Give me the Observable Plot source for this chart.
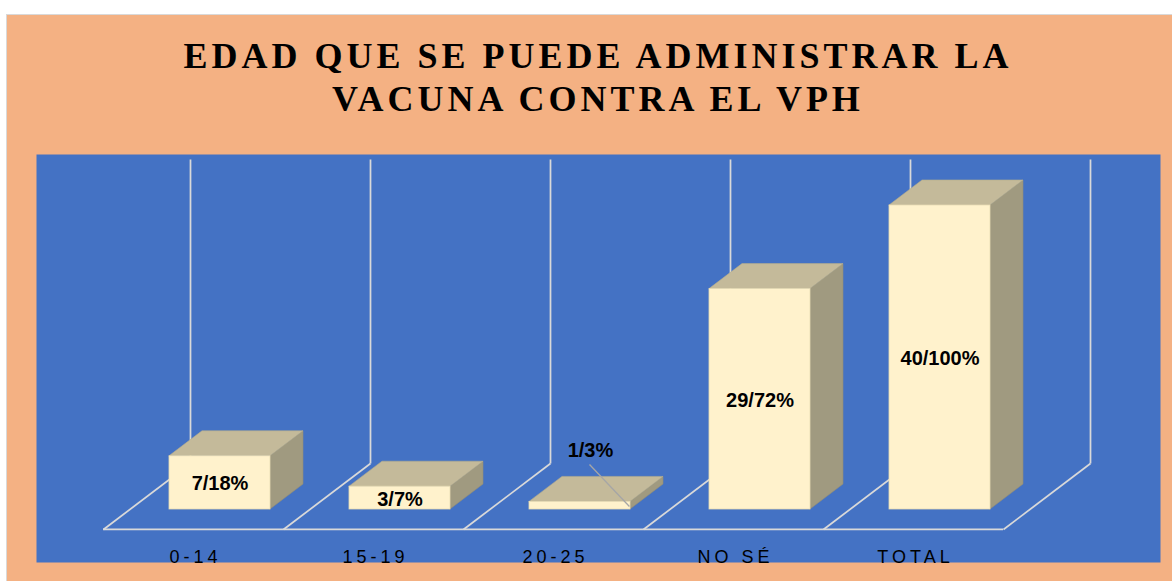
<!DOCTYPE html>
<html>
<head>
<meta charset="utf-8">
<script src="https://cdn.jsdelivr.net/npm/d3@7"></script>
<script src="https://cdn.jsdelivr.net/npm/@observablehq/plot@0.6"></script>
<style>
  html, body { margin: 0; padding: 0; background: #ffffff; }
  #page { position: relative; width: 1172px; height: 581px; overflow: hidden; }
  #panel { position: absolute; left: 6px; top: 14px; width: 1166px; height: 567px;
           background: #F4B183; border-left: 1.5px solid #D9D9D9; border-top: 1.5px solid #D9D9D9; box-sizing: border-box; }
  #title { position: absolute; left: 24px; width: 1148px; top: 35px; text-align: center;
           font-family: "Liberation Serif", "Times New Roman", serif; font-weight: bold;
           font-size: 36px; line-height: 43px; letter-spacing: 4px; color: #000; }
  #chart { position: absolute; left: 0; top: 154px; }
</style>
</head>
<body>
<div id="page">
  <div id="panel"></div>
  <div id="title">EDAD QUE SE PUEDE ADMINISTRAR LA<br>VACUNA CONTRA EL VPH</div>
  <div id="chart"></div>
</div>
<script>
// ---- data ----
const categories = ["0-14", "15-19", "20-25", "NO SÉ", "TOTAL"];
const counts = [7, 3, 1, 29, 40];
const percents = [18, 7, 3, 72, 100];

// ---- geometry (3D look) ----
const BAR_L = 0.3667, BAR_R = 0.9278;   // front face within slot
const DX = 0.1833, DY = 3.29;           // bar depth offset
const FLOOR_DX = 0.4833, FLOOR_FRONT = -2.63, FLOOR_BACK = 6.05, WALL_TOP = 46.05;

const rows = categories.map((c, i) => ({ cat: c, i, v: counts[i], label: `${counts[i]}/${percents[i]}%` }));

const topPts = rows.flatMap(d => [
  { i: d.i, y: d.v, x1: d.i + BAR_L, x2: d.i + BAR_R },
  { i: d.i, y: d.v + DY, x1: d.i + BAR_L + DX, x2: d.i + BAR_R + DX }
]);
const sidePts = rows.flatMap(d => [
  { i: d.i, x: d.i + BAR_R, y1: 0, y2: d.v },
  { i: d.i, x: d.i + BAR_R + DX, y1: DY, y2: d.v + DY }
]);
const dividers = d3.range(categories.length + 1);
const inside = rows.filter(d => d.v >= 2);
const outside = rows.filter(d => d.v < 2);

const GRID = "#D9D9D9";
const FRONT = "#FFF2CC", TOP = "#C4BA9A", SIDE = "#A09A80";

const chart = Plot.plot({
  width: 1172,
  height: 427,
  marginLeft: 36, marginRight: 12, marginTop: 0, marginBottom: 19,
  style: { background: "transparent", overflow: "visible" },
  x: { type: "linear", domain: [0, categories.length], range: [103, 1003], axis: null },
  y: { type: "linear", domain: [0, 40], range: [355, 51], axis: null },
  marks: [
    Plot.frame({ fill: "#4472C4", stroke: null }),
    // floor and back walls
    Plot.link(dividers, { x1: d => d, y1: FLOOR_FRONT, x2: d => d + FLOOR_DX, y2: FLOOR_BACK, stroke: GRID, strokeWidth: 1.75 }),
    Plot.link(dividers, { x1: d => d + FLOOR_DX, y1: FLOOR_BACK, x2: d => d + FLOOR_DX, y2: WALL_TOP, stroke: GRID, strokeWidth: 1.75 }),
    Plot.ruleY([FLOOR_FRONT], { x1: 0, x2: categories.length, stroke: GRID, strokeWidth: 1.75 }),
    // bars
    Plot.areaY(sidePts, { x: "x", y1: "y1", y2: "y2", z: "i", fill: SIDE, stroke: "#958F76", strokeWidth: 0.6 }),
    Plot.areaX(topPts, { y: "y", x1: "x1", x2: "x2", z: "i", fill: TOP, stroke: "#B5AC8C", strokeWidth: 0.6 }),
    Plot.rect(rows, { x1: d => d.i + BAR_L, x2: d => d.i + BAR_R, y1: 0, y2: "v", fill: FRONT, stroke: "#E9DDB4", strokeWidth: 0.8 }),
    // data labels
    Plot.text(inside, { x: d => d.i + (BAR_L + BAR_R) / 2, y: d => d.v / 2, text: "label",
      fontFamily: "Liberation Sans, Arial, sans-serif", fontWeight: "bold", fontSize: 20, fill: "#000", dy: 1 }),
    Plot.link(outside, { x1: d => d.i + 0.70, y1: d => d.v + 4.92, x2: d => d.i + BAR_R - 0.006, y2: d => d.v * 0.4,
      stroke: "#A6A6A6", strokeWidth: 1.3 }),
    Plot.text(outside, { x: d => d.i + (BAR_L + BAR_R) / 2 + 0.058, y: d => d.v + 6.76, text: "label",
      fontFamily: "Liberation Sans, Arial, sans-serif", fontWeight: "bold", fontSize: 20, fill: "#000" }),
    // category labels
    Plot.text(categories, { x: (d, i) => i + 0.5, y: -6.25, text: d => d,
      fontFamily: "Liberation Sans, Arial, sans-serif", fontSize: 18, fill: "#000", dx: 2 })
  ]
});
d3.select(chart).selectAll("text")
  .filter(function () { return categories.includes(this.textContent); })
  .style("letter-spacing", "4px");
document.getElementById("chart").appendChild(chart);
</script>
</body>
</html>
